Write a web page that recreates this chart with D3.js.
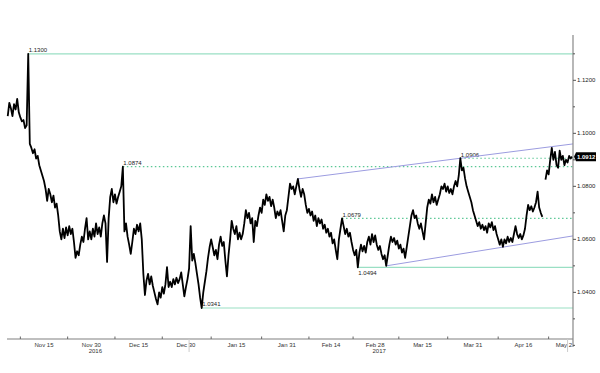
<!DOCTYPE html>
<html><head><meta charset="utf-8">
<script src="https://cdn.jsdelivr.net/npm/d3@7"></script>
<style>html,body{margin:0;padding:0;background:#fff;} svg{display:block;font-family:"Liberation Sans",Arial,sans-serif;}</style>
</head><body><svg id="c" width="600" height="373"></svg>
<script>
// ---- data ----
const seriesStart = "2016-11-03T12:00:00Z";
const stepHours = 12;
const prices = [
1.1065,1.1115,1.1095,1.1065,1.1110,1.1090,1.1130,1.1080,1.1060,1.1045,1.1050,1.1020,1.1030,1.1300,1.0960,1.0945,
1.0925,1.0940,1.0905,1.0915,1.0880,1.0860,1.0840,
1.0820,1.0790,1.0745,1.0790,1.0770,1.0740,1.0765,1.0720,1.0735,1.0690,
1.0630,1.0600,1.0640,1.0605,1.0645,1.0615,1.0650,1.0620,1.0640,
1.0590,1.0530,1.0555,1.0540,1.0580,
1.0610,1.0590,1.0640,1.0680,1.0600,1.0630,1.0600,1.0640,1.0610,1.0660,1.0620,1.0645,1.0610,1.0660,
1.0690,1.0660,1.0515,1.0680,
1.0760,1.0790,1.0740,1.0770,1.0735,1.0760,1.0780,1.0800,1.0874,
1.0630,1.0660,1.0610,1.0580,1.0545,1.0590,1.0640,1.0620,1.0655,1.0630,1.0660,1.0600,1.0470,
1.0390,1.0445,1.0470,1.0430,1.0460,1.0425,1.0400,1.0375,1.0355,1.0400,1.0380,1.0420,1.0395,1.0430,
1.0495,1.0420,1.0440,1.0420,1.0450,1.0430,1.0455,1.0435,1.0450,1.0475,1.0430,1.0385,1.0420,1.0450,1.0490,
1.0650,1.0520,1.0545,1.0510,1.0470,1.0430,1.0380,1.0341,
1.0400,1.0440,1.0480,1.0530,1.0570,1.0600,1.0570,1.0540,1.0560,1.0525,1.0580,1.0610,1.0575,1.0590,
1.0520,1.0460,1.0540,1.0600,1.0670,1.0640,1.0620,1.0650,1.0600,1.0625,1.0600,1.0620,
1.0660,1.0710,1.0680,1.0700,1.0660,1.0680,1.0590,1.0670,1.0650,1.0690,1.0720,1.0700,1.0750,1.0730,1.0770,1.0745,1.0760,1.0725,1.0750,1.0720,
1.0680,1.0705,1.0690,1.0710,1.0670,1.0630,1.0690,1.0710,1.0760,1.0810,1.0790,1.0800,1.0770,1.0800,
1.0828,1.0790,1.0760,1.0790,1.0770,1.0730,1.0700,1.0715,1.0690,1.0705,1.0670,1.0690,1.0650,1.0680,1.0660,1.0675,
1.0640,1.0655,1.0625,1.0640,1.0610,1.0625,1.0585,1.0600,1.0560,1.0525,1.0600,1.0640,
1.0679,1.0650,1.0620,1.0640,1.0610,1.0625,1.0590,1.0560,1.0540,1.0560,1.0494,
1.0550,1.0580,1.0555,1.0575,1.0550,1.0590,1.0610,1.0580,1.0620,1.0590,1.0615,1.0580,1.0560,1.0575,1.0545,1.0525,1.0540,1.0500,
1.0540,1.0580,1.0610,1.0590,1.0605,1.0580,1.0595,1.0565,1.0580,1.0550,1.0565,1.0530,1.0570,1.0610,1.0650,1.0690,
1.0710,1.0680,1.0690,1.0660,1.0640,1.0660,1.0630,1.0600,1.0660,1.0720,1.0750,1.0735,1.0770,1.0740,1.0760,1.0730,1.0750,1.0770,
1.0800,1.0790,1.0810,1.0780,1.0800,1.0775,1.0790,1.0770,1.0800,1.0820,1.0800,1.0840,1.0906,1.0860,1.0870,1.0830,
1.0800,1.0780,1.0760,1.0740,1.0710,1.0690,1.0670,1.0650,1.0665,1.0640,1.0655,1.0635,1.0650,1.0625,1.0660,1.0645,1.0665,1.0635,1.0650,1.0620,
1.0600,1.0580,1.0600,1.0572,1.0600,1.0585,1.0610,1.0590,1.0605,1.0590,1.0620,1.0650,1.0620,1.0605,1.0620,1.0600,1.0615,
1.0640,1.0690,1.0730,1.0710,1.0725,1.0705,1.0720,1.0740,1.0780,1.0720,1.0700,1.0685,
null,
1.0825,1.0860,1.0845,1.0900,1.0945,1.0900,1.0930,1.0880,1.0870,1.0935,1.0900,1.0915,1.0880,1.0900,1.0890,1.0915,1.0905,1.0912
];
const xTickLabels = ["Nov 15","Nov 30","Dec 15","Dec 30","Jan 15","Jan 31","Feb 14","Feb 28","Mar 15","Mar 31","Apr 16","May 2"];
const xTickDates = ["2016-11-15","2016-11-30","2016-12-15","2016-12-30","2017-01-15","2017-01-31","2017-02-14","2017-02-28","2017-03-15","2017-03-31","2017-04-16","2017-05-02"];
const yearLabels = ["2016","2017"];
const yearLabelDates = ["2016-11-30","2017-02-28"];
const separatorDates = ["2016-12-31","2017-04-30"];
const yLabelValues = [1.04,1.06,1.08,1.10,1.12];
const yMinorValues = [1.02,1.03,1.05,1.07,1.09,1.11,1.13];
const levelValues = [1.1300,1.0874,1.0906,1.0679,1.0494,1.0341];
const levelLabels = ["1.1300","1.0874","1.0906","1.0679","1.0494","1.0341"];
const levelPointIndex = [13,73,287,212,222,123];
const trendStartIndex = [184,240];
const trendEndValue = [1.0960,1.0613];
const lastPrice = 1.0912;
const lastPriceLabel = "1.0912";

// ---- layout ----
const W=600,H=373,L=7,R=573,T=35,B=339;
const pxPerDay=3.154, ref=Date.UTC(2016,10,15), day=864e5;
const x=d3.scaleUtc().domain([new Date(ref-(44-L)/pxPerDay*day), new Date(ref+(R-44)/pxPerDay*day)]).range([L,R]);
const y=d3.scaleLinear().domain([1.0224,1.1371]).range([B,T]);
const t0=new Date(seriesStart).getTime();
const data=prices.map((v,i)=>({date:new Date(t0+i*stepHours*3600e3),v}));
const svg=d3.select("#c");
svg.append("rect").attr("width",W).attr("height",H).attr("fill","#fff");

const dotted=new Set([1,2,3]);
// level lines
levelValues.forEach((v,k)=>{
  const x0=x(data[levelPointIndex[k]].date);
  svg.append("line").attr("x1",x0).attr("x2",R).attr("y1",y(v)).attr("y2",y(v))
    .attr("stroke",dotted.has(k)?"#5cc896":"#9adfc4").attr("stroke-width",1.2)
    .attr("stroke-dasharray",dotted.has(k)?"1.5,2.5":null);
  const below = k===4;
  svg.append("text").attr("x",x0+0.5).attr("y",below?y(v)+8:y(v)-1.5)
    .attr("font-size",6).attr("fill","#222").text(levelLabels[k]);
});
// trend lines
trendStartIndex.forEach((idx,k)=>{
  svg.append("line").attr("x1",x(data[idx].date)).attr("y1",y(data[idx].v))
    .attr("x2",R).attr("y2",y(trendEndValue[k])).attr("stroke","#9c9ce0").attr("stroke-width",1);
});
// price line
svg.append("path").datum(data).attr("fill","none").attr("stroke","#000").attr("stroke-width",1.8)
  .attr("stroke-linejoin","round")
  .attr("d",d3.line().defined(d=>d.v!=null).x(d=>x(d.date)).y(d=>y(d.v)));

// bottom axis
svg.append("line").attr("x1",L).attr("x2",R).attr("y1",B).attr("y2",B).attr("stroke","#aaa").attr("stroke-width",1.5);
const td=xTickDates.map(s=>new Date(s+"T00:00:00Z"));
const mids=td.map((d,i)=> i===0 ? new Date(d.getTime()-(td[1]-td[0])/2) : new Date((td[i-1].getTime()+d.getTime())/2));
svg.selectAll(".xt").data(mids).enter().append("line").attr("x1",d=>x(d)).attr("x2",d=>x(d))
  .attr("y1",B-2.5).attr("y2",B).attr("stroke","#666").attr("stroke-width",1);
svg.selectAll(".xl").data(td).enter().append("text")
  .attr("x",d=>x(d)+9>R ? R-1 : x(d))
  .attr("text-anchor",d=>x(d)+9>R ? "end" : "middle")
  .attr("y",346.5).attr("font-size",6).attr("fill","#333").text((d,i)=>xTickLabels[i]);
yearLabels.forEach((t,i)=>{
  svg.append("text").attr("x",x(new Date(yearLabelDates[i]+"T00:00:00Z"))+4).attr("y",353)
    .attr("text-anchor","middle").attr("font-size",6).attr("fill","#333").text(t);
});
separatorDates.forEach(s=>{
  const xx=x(new Date(s+"T00:00:00Z"));
  svg.append("line").attr("x1",xx).attr("x2",xx).attr("y1",B).attr("y2",352).attr("stroke","#ccc").attr("stroke-width",1);
});

// right axis
svg.append("line").attr("x1",R).attr("x2",R).attr("y1",T).attr("y2",347).attr("stroke","#888").attr("stroke-width",1.2);
yMinorValues.forEach(v=>{
  svg.append("line").attr("x1",R).attr("x2",R+2).attr("y1",y(v)).attr("y2",y(v)).attr("stroke","#555");
});
yLabelValues.forEach(v=>{
  svg.append("line").attr("x1",R).attr("x2",R+3).attr("y1",y(v)).attr("y2",y(v)).attr("stroke","#555");
  svg.append("text").attr("x",R+4).attr("y",y(v)+2).attr("font-size",6).attr("fill","#222").text(d3.format(".4f")(v));
});
// last price box
const ly=y(lastPrice);
svg.append("path").attr("d",`M${R+1},${ly} L${R+3},${ly-4.5} L${R+23},${ly-4.5} L${R+23},${ly+4.5} L${R+3},${ly+4.5} Z`).attr("fill","#000");
svg.append("text").attr("x",R+4).attr("y",ly+2).attr("font-size",6).attr("font-weight","bold").attr("fill","#fff").text(lastPriceLabel);
</script></body></html>
